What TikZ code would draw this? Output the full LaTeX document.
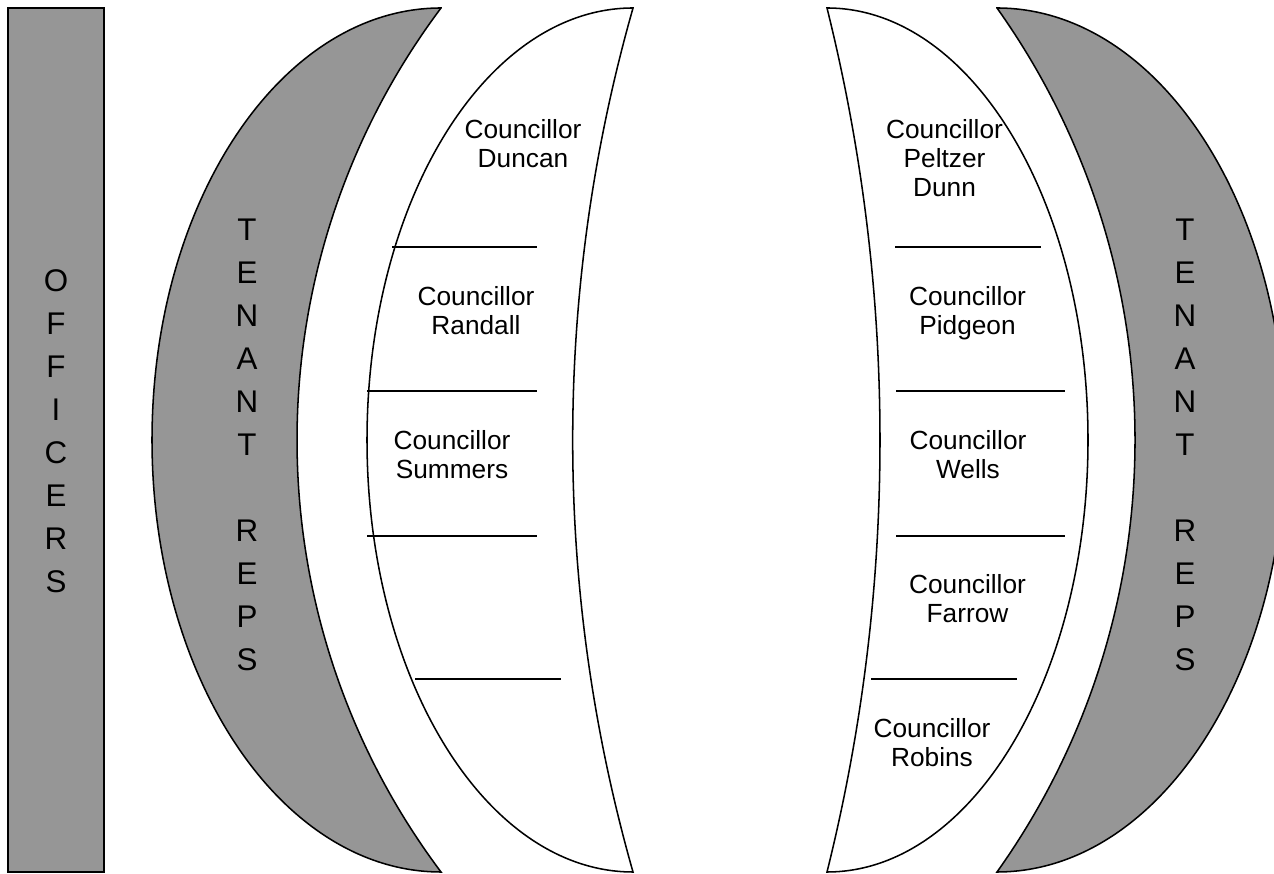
\documentclass[tikz,border=0pt]{standalone}
\usepackage{fontspec}
\setmainfont{Liberation Sans}
\definecolor{shade}{RGB}{150,150,150}
\begin{document}
\begin{tikzpicture}[x=0.75pt,y=0.75pt,
  outl/.style={draw=black,line width=1.15pt},
  greyfill/.style={outl,fill=shade},
  whitefill/.style={outl,fill=white},
  divider/.style={draw=black,line width=1.25pt},
  cname/.style={align=center,anchor=base,inner sep=0pt,font=\fontsize{19.7pt}{22.1pt}\selectfont},
  bigletters/.style={align=center,anchor=base,inner sep=0pt,font=\fontsize{23.5pt}{32.25pt}\selectfont}]
\useasboundingbox (0,0) rectangle (1274,874);
\clip (0,0) rectangle (1274,874);
% officers bar
\draw[greyfill,line width=1.5pt] (8,2) rectangle (104,866);
% left tenant crescent
\draw[greyfill] (441,866) arc[start angle=90,end angle=270,x radius=289,y radius=432]
  arc[start angle=216.87,end angle=143.13,radius=720] -- cycle;
% left councillor crescent
\draw[whitefill] (633,866) arc[start angle=90,end angle=270,x radius=266,y radius=432]
  arc[start angle=195.905,end angle=164.095,radius=1576.35] -- cycle;
% right councillor crescent
\draw[whitefill] (827,866) arc[start angle=90,end angle=-90,x radius=261,y radius=432]
  arc[start angle=-13.99,end angle=13.99,radius=1787] -- cycle;
% right tenant crescent
\draw[greyfill] (997,866) arc[start angle=90,end angle=-90,x radius=288,y radius=432]
  arc[start angle=-35.44,end angle=35.44,radius=745.03] -- cycle;
% dividers left
\draw[divider] (392,627) -- (537,627);
\draw[divider] (367,483) -- (537,483);
\draw[divider] (367,338) -- (537,338);
\draw[divider] (415,195) -- (561,195);
% dividers right
\draw[divider] (895,627) -- (1041,627);
\draw[divider] (896,483) -- (1065,483);
\draw[divider] (896,338) -- (1065,338);
\draw[divider] (871,195) -- (1017,195);
% texts (anchor base = baseline of the last line)
\node[bigletters] (officers) at (56,281) {O\\F\\F\\I\\C\\E\\R\\S};
\node[bigletters] (repsL) at (247,203) {T\\E\\N\\A\\N\\T\\[32.25pt]R\\E\\P\\S};
\node[bigletters] (repsR) at (1185,203) {T\\E\\N\\A\\N\\T\\[32.25pt]R\\E\\P\\S};
\node[cname] (duncan) at (523,706) {Councillor\\Duncan};
\node[cname] (randall) at (476,539) {Councillor\\Randall};
\node[cname] (summers) at (452,395) {Councillor\\Summers};
\node[cname] (peltzer) at (944.5,677) {Councillor\\Peltzer\\Dunn};
\node[cname] (pidgeon) at (967.5,539) {Councillor\\Pidgeon};
\node[cname] (wells) at (968,395) {Councillor\\Wells};
\node[cname] (farrow) at (967.5,251) {Councillor\\Farrow};
\node[cname] (robins) at (932,107) {Councillor\\Robins};
\end{tikzpicture}
\end{document}
